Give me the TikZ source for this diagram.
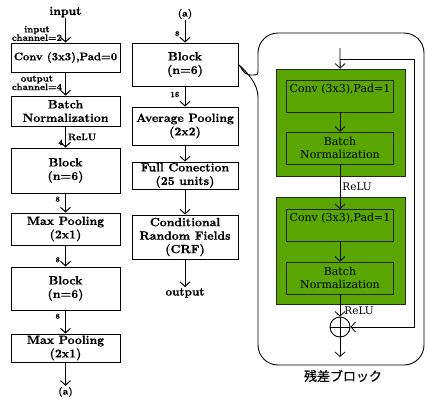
\documentclass[tikz,border=0pt]{standalone}
\usepackage{fontspec}
\newfontfamily\heavyfont{lmroman10-bold.otf}[FakeBold=0.7]
\newfontfamily\panelfont{DejaVu Serif}
\newfontfamily\jpfont{Noto Sans CJK JP}[FakeBold=0.5]
\usetikzlibrary{arrows.meta,positioning}
\definecolor{blockgreen}{RGB}{90,166,0}

\begin{document}
\begin{tikzpicture}[x=1pt,y=-1pt,
  >={Straight Barb[length=4.5pt,width=10pt]},
  lbox/.style={draw, line width=1pt, minimum width=109pt, align=center, inner sep=1pt,
    font=\fontsize{12}{13.5}\heavyfont},
  rbox/.style={lbox, minimum width=106pt},
  gbox/.style={draw=black!85, fill=blockgreen, line width=0.8pt, minimum width=129pt, minimum height=107pt},
  ibox/.style={draw=black!85, line width=0.8pt, minimum width=107pt, minimum height=32pt, align=center,
    inner sep=1pt, font=\fontsize{11}{13}\panelfont},
  word/.style={inner sep=1pt, font=\fontsize{11.5}{13.5}\heavyfont},
  chan/.style={inner sep=1pt, align=center, font=\fontsize{9.5}{8.5}\heavyfont},
  num/.style={inner sep=2pt, font=\fontsize{8}{8}\heavyfont},
  act/.style={inner sep=2pt, font=\fontsize{9.5}{12}\heavyfont},
  actr/.style={inner sep=2pt, font=\fontsize{10.5}{12}\panelfont},
  flow/.style={->, line width=1pt},
  flowr/.style={->, line width=0.8pt}]
  \useasboundingbox (0,0) rectangle (427,399);

  % left column
  \node[word, font=\fontsize{12}{13.5}\heavyfont] (in) at (65.5,12) {input};
  \node[lbox, minimum height=29pt, font=\fontsize{11}{13}\heavyfont] (conv) at (65.5,57.5) {Conv\ (3x3),Pad=0};
  \node[lbox, minimum height=30pt] (bn) at (65.5,111) {Batch\\Normalization};
  \node[lbox, minimum height=45pt] (blk1) at (65.5,170.5) {Block\\(n=6)};
  \node[lbox, minimum height=32pt] (mp1) at (65.5,229) {Max Pooling\\(2x1)};
  \node[lbox, minimum height=43pt] (blk2) at (65.5,288.5) {Block\\(n=6)};
  \node[lbox, minimum height=28pt] (mp2) at (65.5,348) {Max Pooling\\(2x1)};
  \node[word, font=\fontsize{10}{12}\heavyfont] (a1) at (65.5,392) {(a)};

  \draw[flow] (in) -- (conv) node[pos=0.62, left=2pt, chan]{input\\channel=2};
  \draw[flow] (conv) -- (bn) node[pos=0.45, left=2pt, chan]{output\\channel=4};
  \draw[flow] (bn) -- (blk1) node[midway, right, act]{ReLU} node[pos=0.75, left, num]{4};
  \draw[flow] (blk1) -- (mp1) node[pos=0.3, left=3pt, num]{8};
  \draw[flow] (mp1) -- (blk2) node[pos=0.68, left=3pt, num]{8};
  \draw[flow] (blk2) -- (mp2) node[pos=0.25, left=3pt, num]{8};
  \draw[flow] (mp2) -- (a1);

  % middle column
  \node[word, font=\fontsize{10}{12}\heavyfont] (a2) at (185,14) {(a)};
  \node[rbox, minimum height=43pt] (blk3) at (185,64.5) {Block\\(n=6)};
  \node[rbox, minimum height=38pt] (avg) at (185,126) {Average Pooling\\(2x2)};
  \node[rbox, minimum height=27pt] (fc) at (185,175.5) {Full Conection\\(25 units)};
  \node[rbox, minimum height=44pt] (crf) at (185,237) {Conditional\\Random Fields\\(CRF)};
  \node[word] (out) at (185,293) {output};

  \draw[flow] (a2) -- (blk3) node[pos=0.6, left=3pt, num]{8};
  \draw[flow] (blk3) -- (avg) node[pos=0.4, left=3pt, num]{16};
  \draw[flow] (avg) -- (fc);
  \draw[flow] (fc) -- (crf);
  \draw[flow] (crf) -- (out);

  % residual block
  \draw[line width=0.9pt, rounded corners=20] (258,70) -- (258,33) -- (424,33) -- (424,365) -- (258,365) -- (258,97);
  \draw[line width=0.9pt] (258,70) .. controls (258,75) .. (250,75) .. controls (243,75) and (241,66) .. (blk3.east)
    .. controls (247,72) and (258,84) .. (258,97);

  \node[gbox] (g1) at (340.5,122.5) {};
  \node[ibox] (c1) at (340,96) {\strut Conv\ (3x3),Pad=1\\\strut};
  \node[ibox] (b1) at (340,148) {Batch\\Normalization};
  \node[gbox] (g2) at (340.5,251) {};
  \node[ibox] (c2) at (340,225.5) {\strut Conv\ (3x3),Pad=1\\\strut};
  \node[ibox] (b2) at (340,278) {Batch\\Normalization};
  \node[circle, draw, line width=0.9pt, minimum size=20pt, inner sep=0pt] (add) at (340,327) {};
  \draw[line width=0.9pt] (add.north) -- (add.south) (add.west) -- (add.east);

  \coordinate (top) at (340,48);
  \coordinate (skip) at (340,59);
  \coordinate (skipr) at (414,59);
  \coordinate (res) at (340,357);

  \draw[flowr] (top) -- (g1);
  \draw[flowr] (c1) -- (b1);
  \draw[flowr] (b1) -- (c2) node[midway, right, actr]{ReLU};
  \draw[flowr] (c2) -- (b2);
  \draw[flowr] (b2) -- (add) node[pos=0.75, right=2pt, actr]{ReLU};
  \draw[flowr] (skip) -- (skipr) |- (add);
  \draw[flowr] (add) -- (res);

  \node[inner sep=1pt, font=\fontsize{13}{15}\jpfont] (cap) at (343,376) {残差ブロック};
\end{tikzpicture}
\end{document}
